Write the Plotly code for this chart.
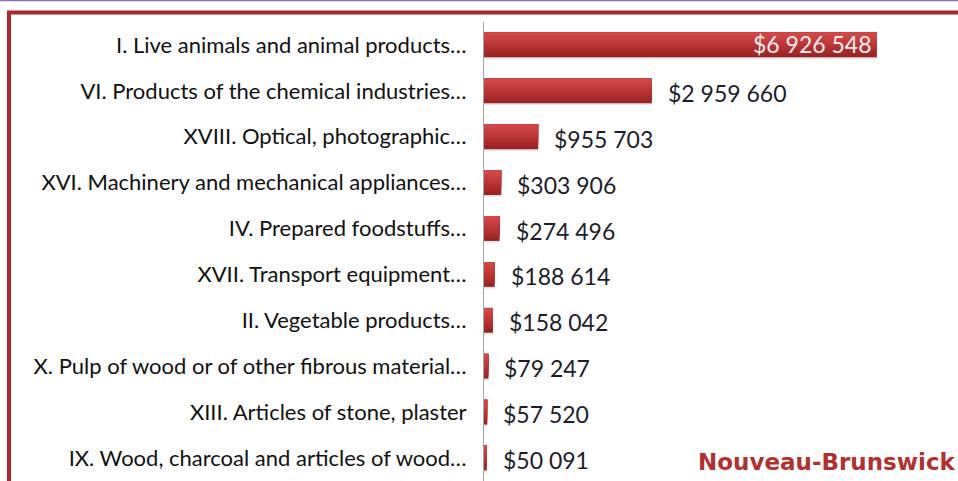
import plotly.graph_objects as go

categories = [
    "I. Live animals and animal products…",
    "VI. Products of the chemical industries…",
    "XVIII. Optical, photographic…",
    "XVI. Machinery and mechanical appliances…",
    "IV. Prepared foodstuffs…",
    "XVII. Transport equipment…",
    "II. Vegetable products…",
    "X. Pulp of wood or of other fibrous material…",
    "XIII. Articles of stone, plaster",
    "IX. Wood, charcoal and articles of wood…",
]
values = [6926548, 2959660, 955703, 303906, 274496, 188614, 158042, 79247, 57520, 50091]
region = "Nouveau-Brunswick"

W, H = 958, 481
FONT = "Lato, Carlito, 'Open Sans', sans-serif"
FRAME = "#a8292b"

def fmt(v):
    return "$" + f"{v:,}".replace(",", " ")

labels = [fmt(v) for v in values]

fig = go.Figure()
# shadow
fig.add_trace(go.Bar(
    y=categories, x=values, orientation="h",
    marker=dict(color="rgba(0,0,0,0.10)", line=dict(width=0)),
    width=0.56, offset=-0.25, hoverinfo="skip", showlegend=False,
))
# gradient layers (bottom dark -> top light)
grad = ["#9c2424", "#a62a2a", "#b03030", "#ba3636", "#c33c3c", "#cb4242", "#d24848"]
full = 0.54
n = len(grad)
for k, col in enumerate(grad):
    w = full * (n - k) / n
    fig.add_trace(go.Bar(
        y=categories, x=values, orientation="h",
        marker=dict(color=col, line=dict(width=0)),
        width=w, offset=-0.27, hoverinfo="skip" if k else None, showlegend=False,
    ))

annotations = []
for i, (c, v, t) in enumerate(zip(categories, values, labels)):
    if i == 0:
        annotations.append(dict(x=v, y=c, xref="x", yref="y", text=t, showarrow=False,
                                xanchor="right", xshift=-3, yshift=1,
                                font=dict(family=FONT, size=23, color="#f6eeee")))
    else:
        annotations.append(dict(x=v, y=c, xref="x", yref="y", text=t, showarrow=False,
                                xanchor="left", xshift=14, yshift=-2,
                                font=dict(family=FONT, size=23, color="#1c1c2a")))

annotations.append(dict(x=958 / W, y=1 - 462 / H, xref="paper", yref="paper", text="<b>" + region + "</b>",
                        showarrow=False, xanchor="right", yanchor="middle",
                        font=dict(family="'URW Gothic', 'Century Gothic', 'DejaVu Sans', sans-serif", size=23, color="#b3302f")))

fig.update_layout(
    width=W, height=H,
    margin=dict(l=0, r=0, t=0, b=0),
    paper_bgcolor="white", plot_bgcolor="white",
    barmode="overlay",
    xaxis=dict(domain=[484 / W, 940 / W], range=[0, 8.04e6], visible=False, fixedrange=True),
    yaxis=dict(domain=[0, 1 - 22 / H], autorange="reversed", showline=True, linecolor="#a6a6a6",
               linewidth=1, ticks="", ticklabelstandoff=12, automargin=False,
               tickfont=dict(family=FONT, size=22, color="#111111"), showgrid=False),
    annotations=annotations,
    shapes=[
        dict(type="line", xref="paper", yref="paper", x0=0, x1=1, y0=1 - 0.5 / H, y1=1 - 0.5 / H,
             line=dict(color="#8c6bb1", width=1.5)),
        dict(type="line", xref="paper", yref="paper", x0=7 / W, x1=1, y0=1 - 12.5 / H, y1=1 - 12.5 / H,
             line=dict(color=FRAME, width=4)),
        dict(type="line", xref="paper", yref="paper", x0=9 / W, x1=9 / W, y0=0, y1=1 - 11 / H,
             line=dict(color=FRAME, width=4)),
    ],
)

fig.write_html("out.html")
